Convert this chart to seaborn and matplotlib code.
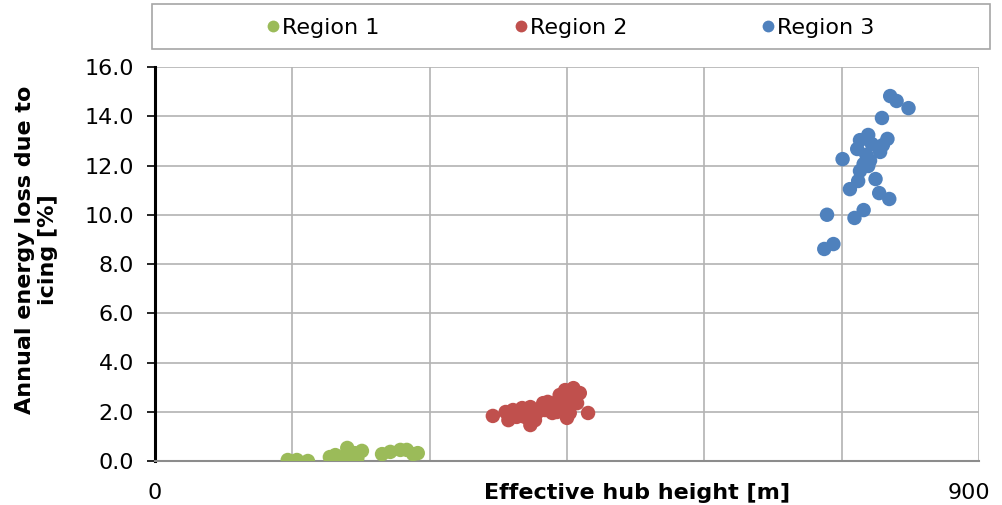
import numpy as np
import pandas as pd
import seaborn as sns
import matplotlib.pyplot as plt
import matplotlib.transforms as mtransforms
from matplotlib.lines import Line2D
from matplotlib.patches import Rectangle

# Effective hub height [m] and annual energy loss due to icing [%] per region
region1_height = [145, 155, 167, 191, 197, 200, 204, 210, 213, 218, 221, 226,
                  248, 257, 268, 275, 282, 287]
region1_loss = [0.04, 0.04, 0.00, 0.16, 0.24, 0.16, 0.04, 0.53, 0.24, 0.32, 0.12, 0.41,
                0.28, 0.37, 0.45, 0.45, 0.28, 0.32]

region2_height = [369, 383, 386, 391, 395, 401, 404, 410, 410, 415, 417, 424, 426,
                  429, 434, 435, 439, 439, 442, 445, 448, 450, 451, 453, 457, 459,
                  461, 464, 473]
region2_loss = [1.83, 1.99, 1.66, 2.07, 1.79, 2.15, 1.79, 2.19, 1.46, 1.66, 1.95, 2.35, 2.07,
                2.40, 1.95, 2.19, 1.99, 2.40, 2.68, 2.19, 2.88, 1.75, 2.48, 1.95, 2.96, 2.68,
                2.35, 2.76, 1.95]

region3_height = [731, 741, 734, 764, 774, 759, 768, 770, 774, 779, 787, 791, 802,
                  751, 777, 767, 770, 779, 792, 795, 800, 794, 803, 810, 823, 781, 783]
region3_loss = [8.61, 8.81, 10.00, 9.87, 10.19, 11.04, 11.37, 11.78, 12.06, 11.98, 11.45, 10.88, 10.64,
                12.26, 12.43, 12.67, 13.03, 13.24, 12.55, 12.83, 13.08, 13.93, 14.82, 14.62, 14.33, 12.20, 12.87]

regions = ["Region 1", "Region 2", "Region 3"]
colors = ["#9BBB59", "#C0504D", "#4F81BD"]

df = pd.concat([
    pd.DataFrame({"height": region1_height, "loss": region1_loss, "region": regions[0]}),
    pd.DataFrame({"height": region2_height, "loss": region2_loss, "region": regions[1]}),
    pd.DataFrame({"height": region3_height, "loss": region3_loss, "region": regions[2]}),
], ignore_index=True)

sns.set_style("white")
plt.rcParams["font.family"] = ["DejaVu Sans"]
plt.rcParams.update({"text.color": "black", "axes.labelcolor": "black",
                     "xtick.color": "black", "ytick.color": "black"})

fig = plt.figure(figsize=(10.02, 5.05), dpi=100)
ax = fig.add_axes([155 / 1002, 44 / 505, 824 / 1002, 394 / 505])

sns.scatterplot(data=df, x="height", y="loss", hue="region", hue_order=regions,
                palette=colors, s=108, linewidth=0, alpha=1, legend=False, ax=ax,
                zorder=3)

ax.set_xlim(0, 900)
ax.set_ylim(0, 16)
ax.set_xticks(np.arange(0, 901, 150))
ax.set_xticklabels(["0", "", "", "", "", "", "900"])
ax.set_yticks(np.arange(0, 16.1, 2))
ax.set_yticklabels([f"{v:.1f}" for v in np.arange(0, 16.1, 2)])
ax.tick_params(axis="y", labelsize=16, length=6, width=1.2, left=True, pad=9)
ax.tick_params(axis="x", labelsize=16, length=0, pad=16)

# nudge the last x tick label inward
shift = mtransforms.ScaledTranslation(-10 / 100, 0, fig.dpi_scale_trans)
last = ax.get_xticklabels()[-1]
last.set_transform(last.get_transform() + shift)

ax.grid(True, color="#b3b3b3", linewidth=1.2)
ax.set_axisbelow(True)
for side in ["top", "right"]:
    ax.spines[side].set_visible(False)
ax.spines["left"].set_color("black")
ax.spines["left"].set_linewidth(2.2)
ax.spines["bottom"].set_color("#8c8c8c")
ax.spines["bottom"].set_linewidth(1.5)

ax.set_xlabel("Effective hub height [m]", fontsize=16, fontweight="bold")
ax.xaxis.set_label_coords(0.585, -0.081)
ax.xaxis.label.set_va("center")
ax.set_ylabel("Annual energy loss due to\nicing [%]", fontsize=16, fontweight="bold",
              linespacing=1.15)
ax.yaxis.set_label_coords(-0.118, 0.536)

# Legend strip across the top of the figure
fig.patches.append(Rectangle((152 / 1002, 1 - 49 / 505), 838 / 1002, 45 / 505,
                             transform=fig.transFigure, facecolor="white",
                             edgecolor="#a6a6a6", linewidth=1.2))
handles = [Line2D([0], [0], marker="o", linestyle="none", markersize=8.5,
                  markerfacecolor=c, markeredgewidth=0) for c in colors]
fig.legend(handles, regions, loc="center", bbox_to_anchor=(570 / 1002, 1 - 28 / 505),
           ncol=3, frameon=False, fontsize=16, handletextpad=0.05, handlelength=0.7,
           columnspacing=6.0)

fig.savefig("out.png", dpi=100)
